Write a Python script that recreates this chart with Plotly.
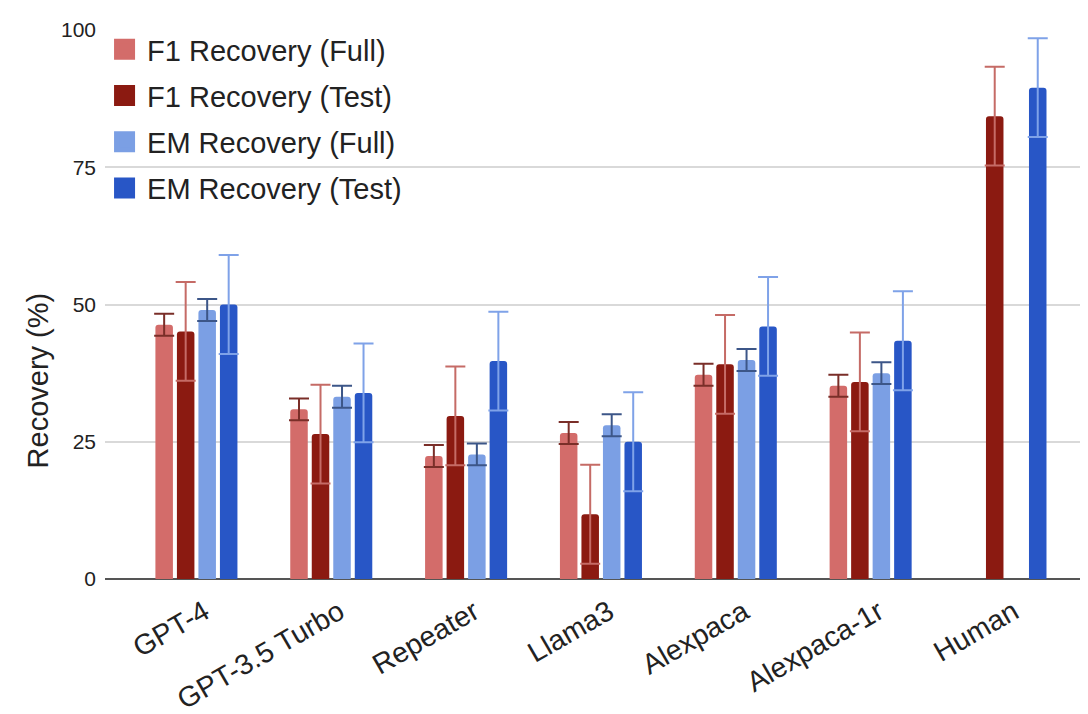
import plotly.graph_objects as go

models = ["GPT-4", "GPT-3.5 Turbo", "Repeater", "Llama3", "Alexpaca", "Alexpaca-1r", "Human"]
f1_full = [46.3, 30.9, 22.4, 26.6, 37.2, 35.2, None]
f1_full_err = [2.0, 2.0, 2.0, 2.0, 2.0, 2.0, None]
f1_test = [45.1, 26.4, 29.7, 11.8, 39.1, 35.9, 84.3]
f1_test_err = [9.0, 9.0, 9.0, 9.0, 9.0, 9.0, 9.0]
em_full = [49.0, 33.2, 22.7, 28.0, 39.9, 37.5, None]
em_full_err = [2.0, 2.0, 2.0, 2.0, 2.0, 2.0, None]
em_test = [50.0, 33.9, 39.7, 25.0, 46.0, 43.4, 89.5]
em_test_err = [9.0, 9.0, 9.0, 9.0, 9.0, 9.0, 9.0]

series = [
    ("F1 Recovery (Full)", f1_full, f1_full_err, "#d36c6a", "#7a2e28"),
    ("F1 Recovery (Test)", f1_test, f1_test_err, "#8b1a11", "#c56b66"),
    ("EM Recovery (Full)", em_full, em_full_err, "#7b9fe4", "#3c5688"),
    ("EM Recovery (Test)", em_test, em_test_err, "#2856c6", "#7fa2e8"),
]

FONT = "Arial, 'Liberation Sans', sans-serif"
fig = go.Figure()
for name, vals, errs, col, ecol in series:
    fig.add_trace(go.Bar(
        x=models, y=vals, name=name, showlegend=False,
        marker=dict(color=col, cornerradius=3, line=dict(width=0)),
        error_y=dict(type="data", array=errs, visible=True, color=ecol,
                     thickness=2, width=10),
    ))
for i, (name, vals, errs, col, ecol) in enumerate(series):
    fig.add_trace(go.Scatter(
        x=[None], y=[None], mode="markers", name=name, legendgroup=f"g{i}",
        marker=dict(symbol="square", size=20, color=col, line=dict(width=5, color=col)),
        showlegend=True,
    ))

fig.update_layout(
    width=1080, height=706,
    margin=dict(l=97, r=0, t=22, b=135, autoexpand=False),
    paper_bgcolor="white", plot_bgcolor="white",
    barmode="group", bargap=0.362, bargroupgap=0.186,
    font=dict(family=FONT, color="#222222"),
    legend=dict(x=-0.003, y=1.011, xanchor="left", yanchor="top",
                font=dict(size=29, family=FONT, color="#222222"),
                traceorder="grouped", tracegroupgap=5.5,
                bgcolor="rgba(255,255,255,0)", itemwidth=35),
    xaxis=dict(type="category", categoryorder="array", categoryarray=models,
               range=[-0.678, 6.612], tickangle=-30,
               tickfont=dict(size=28.5, family=FONT, color="#222222"),
               ticklabelstandoff=10, ticklabelshift=8,
               showgrid=False, showline=False, ticks=""),
    yaxis=dict(range=[0, 100], tickvals=[0, 25, 50, 75, 100],
               tickfont=dict(size=21, family=FONT, color="#222222"),
               showgrid=True, gridcolor="#d9d9d9", gridwidth=1.5,
               zeroline=True, zerolinecolor="#555555", zerolinewidth=2,
               ticklabelstandoff=8),
    annotations=[dict(text="Recovery (%)", textangle=-90, xref="paper", yref="paper",
                      x=-0.068, y=0.362, xanchor="center", yanchor="middle",
                      showarrow=False,
                      font=dict(size=29, family=FONT, color="#222222"))],
)

fig.write_html("out.html")
